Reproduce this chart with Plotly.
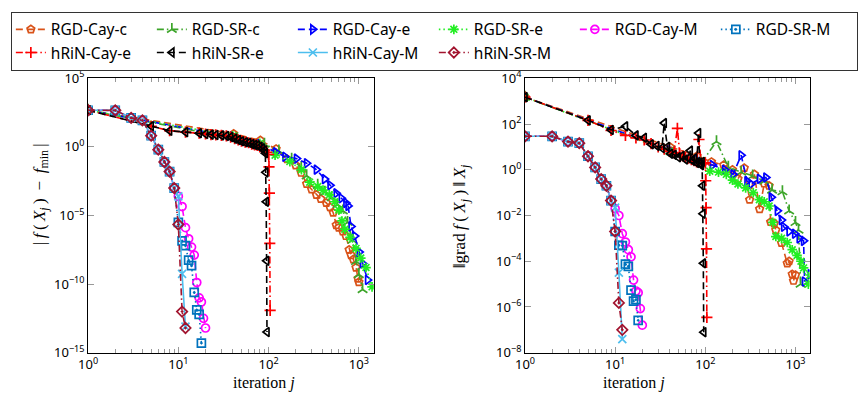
import plotly.graph_objects as go

# ---------------- |f(X_j) - f_min| per iteration ----------------
it_rgd_cay_c_f = [1, 41, 81, 121, 160, 200, 230, 264, 300, 339, 380, 436, 480, 520, 562, 600, 664, 720, 780, 820, 870, 930, 980, 1000]
f_rgd_cay_c = [4.7e2, 9.1e0, 3.0e0, 7.1e-1, 1.3e-1, 4.5e-2, 1.3e-2, 2.0e-3, 7.9e-4, 3.2e-4, 1.6e-4, 8.3e-5, 4.0e-5, 1.6e-5,
               2.0e-6, 1.3e-6, 6.9e-7, 3.2e-7, 3.2e-8, 1.3e-8, 6.3e-9, 1.6e-9, 2.5e-10, 1.4e-10]

it_rgd_sr_c_f = [1, 45, 90, 130, 180, 230, 264, 350, 420, 500, 580, 664, 750, 850, 930, 1000, 1100]
f_rgd_sr_c = [4.7e2, 4.0e0, 1.6e0, 5.0e-1, 1.3e-1, 3.2e-2, 7.9e-3, 1.6e-3, 5.0e-4, 2.0e-4, 6.3e-5, 2.2e-5, 3.2e-6, 1.6e-7,
              4.5e-9, 5.0e-10, 4.0e-11]

it_rgd_cay_e_f = [1, 40, 80, 120, 152, 204, 264, 339, 417, 480, 562, 640, 720, 760, 820, 900, 1010, 1100, 1250]
f_rgd_cay_e = [4.7e2, 5.6e0, 1.6e0, 4.0e-1, 1.9e-1, 1.4e-1, 6.5e-2, 2.2e-2, 4.5e-3, 1.6e-3, 4.2e-4, 1.8e-4, 8.3e-5, 5.0e-5,
               1.6e-6, 3.2e-7, 2.2e-8, 3.2e-9, 2.0e-10]

it_rgd_sr_e_f = [1, 40, 80, 118, 172, 231, 285, 350, 401, 470, 540, 600, 650, 700, 800, 930, 1050, 1200, 1400]
f_rgd_sr_e = [4.7e2, 6.3e0, 1.8e0, 2.5e-1, 8.5e-2, 2.2e-2, 2.7e-3, 1.3e-3, 7.1e-4, 3.2e-4, 1.0e-4, 2.5e-5, 4.0e-6, 1.0e-6,
              2.5e-7, 4.0e-8, 7.9e-9, 1.6e-9, 6.3e-11]

it_rgd_cay_m_f = list(range(1, 21))
f_rgd_cay_m = [4.7e2, 4.6e2, 1.3e2, 8.5e1, 6.6e0, 6.3e-1, 7.9e-2, 1.6e-2, 1.0e-3, 2.5e-4, 4.5e-5, 1.3e-6, 2.0e-7, 5.0e-8,
               1.3e-8, 1.3e-10, 1.0e-11, 5.0e-12, 3.2e-13, 6.3e-14]

it_rgd_sr_m_f = list(range(1, 19))
f_rgd_sr_m = [4.7e2, 4.6e2, 1.3e2, 8.5e1, 6.6e0, 6.3e-1, 7.9e-2, 1.6e-2, 1.0e-3, 3.2e-6, 1.4e-7, 6.3e-8, 5.5e-9, 2.2e-9,
              2.5e-11, 1.3e-12, 6.3e-13, 5.0e-15]

it_hrin_cay_e_f = [1, 5, 8, 12, 17, 20, 23, 26, 30, 34, 38, 42, 46, 50, 55, 60, 65, 70, 75, 80, 85, 90, 95, 100, 101, 102, 103, 104]
f_hrin_cay_e = [4.7e2, 3.2e1, 1.5e1, 1.2e1, 1.0e1, 8.7e0, 7.9e0, 7.4e0, 6.9e0, 6.3e0, 5.2e0, 4.0e0, 3.2e0, 2.6e0, 2.2e0,
                2.0e0, 1.6e0, 1.4e0, 1.3e0, 1.0e0, 7.9e-1, 5.6e-1, 4.0e-1, 2.8e-1, 3.5e-2, 4.2e-4, 9.3e-8, 1.2e-12]

it_hrin_sr_e_f = [1, 5, 8, 12, 17, 20, 23, 26, 30, 34, 38, 42, 46, 50, 55, 60, 65, 70, 75, 80, 85, 90, 92, 93, 94, 95, 96]
f_hrin_sr_e = [4.7e2, 3.2e1, 1.5e1, 1.2e1, 1.0e1, 8.7e0, 7.9e0, 7.4e0, 6.9e0, 6.3e0, 5.2e0, 4.0e0, 3.2e0, 2.6e0, 2.2e0,
               2.0e0, 1.6e0, 1.4e0, 1.3e0, 1.0e0, 7.9e-1, 5.6e-1, 3.5e-1, 1.4e-2, 1.0e-4, 5.0e-9, 3.2e-14]

it_hrin_cay_m_f = list(range(1, 13))
f_hrin_cay_m = [4.7e2, 4.6e2, 1.3e2, 8.5e1, 6.6e0, 6.3e-1, 7.9e-2, 1.6e-2, 1.0e-3, 2.5e-4, 5.6e-10, 7.9e-14]

it_hrin_sr_m_f = list(range(1, 13))
f_hrin_sr_m = [4.7e2, 4.6e2, 1.3e2, 8.5e1, 6.6e0, 6.3e-1, 7.9e-2, 1.6e-2, 1.0e-3, 2.2e-6, 1.0e-12, 6.3e-14]

# ---------------- ||grad f(X_j)|| per iteration ----------------
it_rgd_cay_c_g = [1, 41, 81, 117, 160, 200, 230, 270, 310, 350, 400, 450, 510, 530, 580, 605, 700, 810, 850, 920, 950, 1000]
g_rgd_cay_c = [1.5e3, 9.5e0, 4.0e0, 2.2e0, 1.6e0, 1.0e0, 4.0e-1, 1.2e0, 4.9e-2, 6.3e-1, 1.9e-2, 2.5e-1, 2.0e-1, 5.2e-3,
               4.5e-3, 2.3e-3, 6.3e-4, 8.1e-5, 1.0e-4, 2.7e-5, 1.4e-5, 2.5e-5]

it_rgd_sr_c_g = [1, 45, 90, 133, 180, 250, 335, 450, 550, 716, 850, 1000, 1080, 1140]
g_rgd_sr_c = [1.5e3, 5.6e0, 2.0e0, 1.7e1, 1.3e0, 7.9e-1, 5.4e-1, 3.2e-1, 1.3e-1, 1.1e-1, 1.6e-2, 5.0e-3, 2.3e-3, 1.0e-5]

it_rgd_cay_e_g = [1, 40, 80, 120, 164, 203, 250, 290, 322, 400, 470, 540, 630, 700, 740, 850, 980, 1100, 1230, 1260, 1460]
g_rgd_cay_e = [1.5e3, 7.1e0, 2.8e0, 1.6e0, 1.0e0, 6.3e-1, 4.3e0, 3.2e-1, 2.4e-1, 4.0e-1, 4.6e-1, 6.3e-2, 1.6e-2, 6.3e-3,
               3.2e-3, 2.0e-3, 1.6e-3, 1.0e-3, 7.8e-4, 1.3e-5, 2.7e-5]

it_rgd_sr_e_g = [1, 40, 80, 112, 140, 171, 200, 230, 280, 340, 397, 450, 510, 560, 605, 700, 810, 920, 1040, 1150, 1230, 1390, 1460]
g_rgd_sr_e = [1.5e3, 6.3e0, 2.5e0, 8.7e-1, 7.9e-1, 6.3e-1, 3.5e-1, 2.4e-1, 1.6e-1, 1.0e-1, 4.9e-2, 4.0e-2, 2.6e-2, 5.0e-3,
              1.2e-3, 1.0e-3, 6.6e-4, 3.2e-4, 1.8e-4, 1.0e-4, 5.1e-5, 1.0e-5, 2.5e-5]

it_rgd_cay_m_g = list(range(1, 21))
g_rgd_cay_m = [2.9e1, 2.9e1, 1.7e1, 1.45e1, 3.9e0, 1.26e0, 3.9e-1, 2.0e-1, 4.5e-2, 2.0e-2, 1.0e-2, 1.6e-3, 6.9e-4, 3.2e-4,
               1.55e-4, 1.5e-5, 5.0e-6, 4.2e-6, 8.5e-7, 1.6e-7]

it_rgd_sr_m_g = list(range(1, 19))
g_rgd_sr_m = [2.9e1, 2.9e1, 1.7e1, 1.45e1, 3.9e0, 1.26e0, 3.9e-1, 2.0e-1, 4.5e-2, 2.0e-3, 5.0e-4, 4.8e-4, 7.4e-5, 6.0e-5,
              5.5e-6, 1.8e-6, 2.1e-6, 2.6e-7]

it_hrin_cay_e_g = [1, 5, 9, 13, 17, 21, 25, 30, 35, 40, 45, 49, 52, 56, 60, 65, 70, 75, 80, 85, 90, 95, 100, 101, 102, 103, 104]
g_hrin_cay_e = [1.5e3, 1.45e2, 5.2e1, 3.2e1, 2.5e1, 2.0e1, 1.4e1, 1.0e1, 7.9e0, 6.3e0, 5.6e0, 6.5e1, 5.0e0, 4.0e0, 3.5e0,
                3.2e0, 2.8e0, 2.5e0, 2.2e0, 2.1e1, 2.0e0, 1.8e0, 2.0e0, 3.3e-1, 2.2e-2, 3.5e-4, 3.5e-7]

it_hrin_sr_e_g = [1, 5, 9, 13, 17, 21, 25, 29, 33, 35, 38, 41, 45, 50, 55, 60, 65, 68, 72, 76, 80, 84, 87, 90, 92, 93, 94, 95, 96]
g_hrin_sr_e = [1.5e3, 1.45e2, 5.5e1, 7.9e1, 3.2e1, 2.5e1, 1.3e1, 1.1e1, 8.9e0, 1.1e2, 1.0e1, 5.0e0, 4.5e0, 3.5e0, 4.0e0,
               2.8e0, 3.2e0, 6.9e0, 2.5e0, 3.2e0, 2.0e0, 4.0e1, 2.0e0, 1.6e0, 2.2e0, 2.0e-1, 1.2e-2, 8.1e-5, 7.9e-8]

it_hrin_cay_m_g = list(range(1, 13))
g_hrin_cay_m = [2.9e1, 2.9e1, 1.7e1, 1.45e1, 3.9e0, 1.26e0, 3.9e-1, 2.0e-1, 4.5e-2, 2.2e-2, 3.2e-5, 3.9e-8]

it_hrin_sr_m_g = list(range(1, 13))
g_hrin_sr_m = [2.9e1, 2.9e1, 1.7e1, 1.45e1, 3.9e0, 1.26e0, 3.9e-1, 2.0e-1, 4.5e-2, 2.0e-3, 1.5e-6, 1.0e-7]

# legend name, colour, marker, line dash, (iters, f), (iters, grad norm)
methods = [
    ("RGD-Cay-c", "#D95319", "pentagon-open", "7px,4px", it_rgd_cay_c_f, f_rgd_cay_c, it_rgd_cay_c_g, g_rgd_cay_c),
    ("RGD-SR-c", "#3DA52A", "y-up-open", "7px,3px,1.5px,3px", it_rgd_sr_c_f, f_rgd_sr_c, it_rgd_sr_c_g, g_rgd_sr_c),
    ("RGD-Cay-e", "#0000FF", "triangle-right-open", "7px,4px", it_rgd_cay_e_f, f_rgd_cay_e, it_rgd_cay_e_g, g_rgd_cay_e),
    ("RGD-SR-e", "#22EE22", "asterisk-open", "1.5px,3px", it_rgd_sr_e_f, f_rgd_sr_e, it_rgd_sr_e_g, g_rgd_sr_e),
    ("RGD-Cay-M", "#FF00FF", "circle-open", "7px,4px", it_rgd_cay_m_f, f_rgd_cay_m, it_rgd_cay_m_g, g_rgd_cay_m),
    ("RGD-SR-M", "#0072BD", "square-open-dot", "1.5px,3px", it_rgd_sr_m_f, f_rgd_sr_m, it_rgd_sr_m_g, g_rgd_sr_m),
    ("hRiN-Cay-e", "#FF0000", "cross-thin-open", "7px,3px,1.5px,3px", it_hrin_cay_e_f, f_hrin_cay_e, it_hrin_cay_e_g, g_hrin_cay_e),
    ("hRiN-SR-e", "#000000", "triangle-left-open", "7px,4px", it_hrin_sr_e_f, f_hrin_sr_e, it_hrin_sr_e_g, g_hrin_sr_e),
    ("hRiN-Cay-M", "#4DBEEE", "x-thin-open", "solid", it_hrin_cay_m_f, f_hrin_cay_m, it_hrin_cay_m_g, g_hrin_cay_m),
    ("hRiN-SR-M", "#A2142F", "diamond-open-dot", "7px,3px,1.5px,3px", it_hrin_sr_m_f, f_hrin_sr_m, it_hrin_sr_m_g, g_hrin_sr_m),
]

fig = go.Figure()
for name, color, symbol, dash, itf, fv, itg, gv in methods:
    style = dict(
        mode="lines+markers",
        line=dict(color=color, width=1.6, dash=dash),
        marker=dict(symbol=symbol, size=8, color=color, line=dict(color=color, width=1.7)),
        legendgroup=name,
        name=name,
    )
    fig.add_trace(go.Scatter(x=itf, y=fv, xaxis="x", yaxis="y", showlegend=True, **style))
    fig.add_trace(go.Scatter(x=itg, y=gv, xaxis="x2", yaxis="y2", showlegend=False, **style))

W, H = 866, 415
tick_font = dict(family="Noto Sans", size=13, color="black")
x_ticks = [1, 10, 100, 1000]
x_text = ["10<sup>0</sup>", "10<sup>1</sup>", "10<sup>2</sup>", "10<sup>3</sup>"]
x_minor = [m * 10 ** e for e in range(4) for m in range(2, 10)]


def xaxis(domain):
    return dict(
        type="log", domain=domain, range=[0, 3.165], tickmode="array", tickvals=x_ticks, ticktext=x_text,
        ticks="inside", ticklen=6, tickcolor="#999", tickwidth=1,
        minor=dict(tickmode="array", tickvals=x_minor, ticks="inside", ticklen=3.5, tickcolor="#999", showgrid=False),
        showline=True, linecolor="black", linewidth=1, mirror="allticks", showgrid=False, zeroline=False,
        tickfont=tick_font,
    )


def yaxis(domain, rng, vals, anchor):
    return dict(
        type="log", domain=domain, range=rng, tickmode="array", tickvals=[10.0 ** v for v in vals],
        ticktext=["10<sup>%s</sup>" % (str(v).replace("-", "\u2212")) for v in vals],
        ticks="inside", ticklen=6, tickcolor="#999", tickwidth=1,
        showline=True, linecolor="black", linewidth=1, mirror="allticks", showgrid=False, zeroline=False,
        tickfont=tick_font, anchor=anchor,
    )


y_dom = [1 - 359 / H, 1 - 70.7 / H]
fig.update_layout(
    width=W, height=H, margin=dict(l=0, r=0, t=0, b=0),
    paper_bgcolor="white", plot_bgcolor="white",
    xaxis=xaxis([79 / W, 368 / W]),
    yaxis=yaxis(y_dom, [-15, 5], [-15, -10, -5, 0, 5], "x"),
    xaxis2=dict(xaxis([521 / W, 809 / W]), range=[0, 3.157], anchor="y2"),
    yaxis2=yaxis(y_dom, [-8, 4], [-8, -6, -4, -2, 0, 2, 4], "x2"),
    legend=dict(
        orientation="h", x=0.001, y=0.998, xanchor="left", yanchor="top",
        bordercolor="#333", borderwidth=1, bgcolor="white",
        font=dict(family="Noto Sans", size=15.5, color="black"),
        entrywidth=96, entrywidthmode="pixels", tracegroupgap=0,
    ),
    showlegend=True,
)

serif = dict(family="Liberation Serif", size=16, color="black")
sp = "\u2009"
fig.add_annotation(text="iteration <i>j</i>", x=223.5 / W, y=1 - 402 / H, xref="paper", yref="paper",
                   showarrow=False, font=serif)
fig.add_annotation(text="iteration <i>j</i>", x=665 / W, y=1 - 402 / H, xref="paper", yref="paper",
                   showarrow=False, font=serif)
fig.add_annotation(
    text="|" + sp + "<i>f</i>" + sp + "(" + sp + "<i>X</i><sub><i>j</i></sub>" + sp + ")" + sp + " \u2212 " + sp
         + "<i>f</i><sub>min</sub>" + sp + "|",
    x=17.5 / W, y=1 - 192 / H, xref="paper", yref="paper", textangle=-90,
    showarrow=False, font=dict(serif, size=17))
fig.add_annotation(
    text="\u2016grad" + sp + "<i>f</i>" + sp + "(" + sp + "<i>X</i><sub><i>j</i></sub>" + sp + ")" + sp + "\u2016" + sp
         + "<i>X</i><sub><i>j</i></sub>",
    x=456 / W, y=1 - 216 / H, xref="paper", yref="paper", textangle=-90,
    showarrow=False, font=dict(serif, size=17))

fig.write_html("out.html")
